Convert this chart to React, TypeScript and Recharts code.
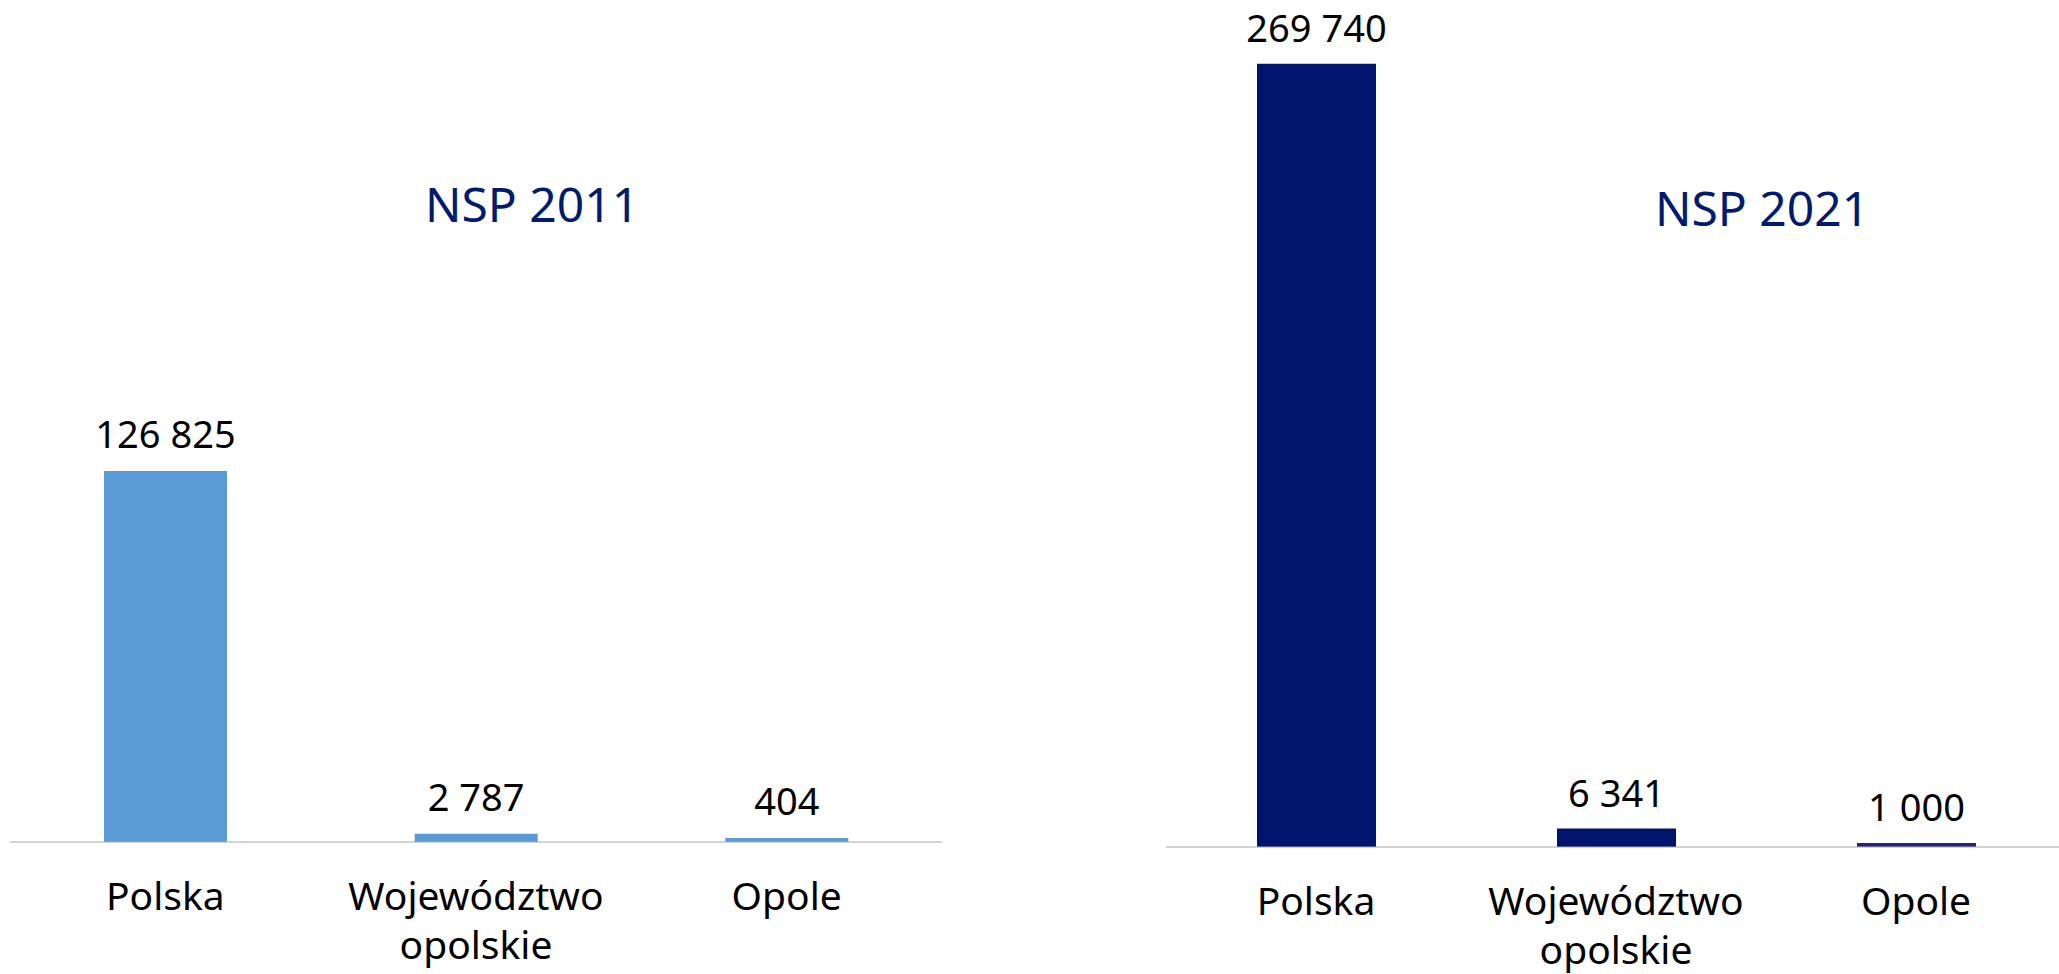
import { BarChart, Bar, XAxis, YAxis, LabelList, Cell } from 'recharts';

const categories = ['Polska', 'Województwo opolskie', 'Opole'];
const values2011 = [126825, 2787, 404];
const values2021 = [269740, 6341, 1000];

const data2011 = categories.map((name, i) => ({ name, value: values2011[i] }));
const data2021 = categories.map((name, i) => ({ name, value: values2021[i] }));

// thousands separated by a space, also for 4-digit numbers
const fmt = (v: number) => String(Math.round(v)).replace(/\B(?=(\d{3})+(?!\d))/g, ' ');

function Tick(props: any) {
  const { x, y, payload } = props;
  const words = String(payload.value).split(' ');
  return (
    <text x={x} y={y} textAnchor="middle" fill="#000" fontSize={39}>
      {words.map((w, i) => (
        <tspan key={i} x={x} dy={i === 0 ? 68 : 49}>{w}</tspan>
      ))}
    </text>
  );
}

const titleStyle = (cx: number, top: number): React.CSSProperties => ({
  position: 'absolute', left: cx - 200, top, width: 400, textAlign: 'center',
  fontSize: 48, lineHeight: 1, color: '#001a72',
});

export default function App() {
  return (
    <div style={{ position: 'absolute', left: 0, top: 0, width: 2059, height: 974, overflow: 'hidden', background: '#fff', fontFamily: '"Noto Sans", sans-serif' }}>
      <div style={{ position: 'absolute', left: 0, top: 0 }}>
        <BarChart width={950} height={974} data={data2011} margin={{ top: 23, right: 8, bottom: 12, left: 10 }}>
          <XAxis dataKey="name" height={120} tickSize={0} tickMargin={0} tickLine={false} axisLine={{ stroke: '#a6a6a6' }} tick={<Tick />} interval={0} />
          <YAxis hide domain={[0, 280000]} />
          <Bar dataKey="value" fill="#5b9bd5" barSize={123} minPointSize={4} isAnimationActive={false}>
            <LabelList dataKey="value" position="top" offset={23} formatter={(v: any) => fmt(Number(v))} fill="#000" fontSize={38} />
          </Bar>
        </BarChart>
      </div>
      <div style={titleStyle(532, 180)}>NSP 2011</div>

      <div style={{ position: 'absolute', left: 1166, top: 0 }}>
        <BarChart width={900} height={974} data={data2021} margin={{ top: 34, right: 0, bottom: 12, left: 0 }}>
          <XAxis dataKey="name" height={115} tickSize={0} tickMargin={0} tickLine={false} axisLine={{ stroke: '#a6a6a6' }} tick={<Tick />} interval={0} />
          <YAxis hide domain={[0, 280000]} />
          <Bar dataKey="value" fill="#00146e" barSize={119} minPointSize={4} isAnimationActive={false}>
            {data2021.map((d, i) => (
              <Cell key={d.name} fill={i === 2 ? '#28237a' : '#00146e'} />
            ))}
            <LabelList dataKey="value" position="top" offset={22} formatter={(v: any) => fmt(Number(v))} fill="#000" fontSize={38} />
          </Bar>
        </BarChart>
      </div>
      <div style={titleStyle(1762, 184)}>NSP 2021</div>
    </div>
  );
}
